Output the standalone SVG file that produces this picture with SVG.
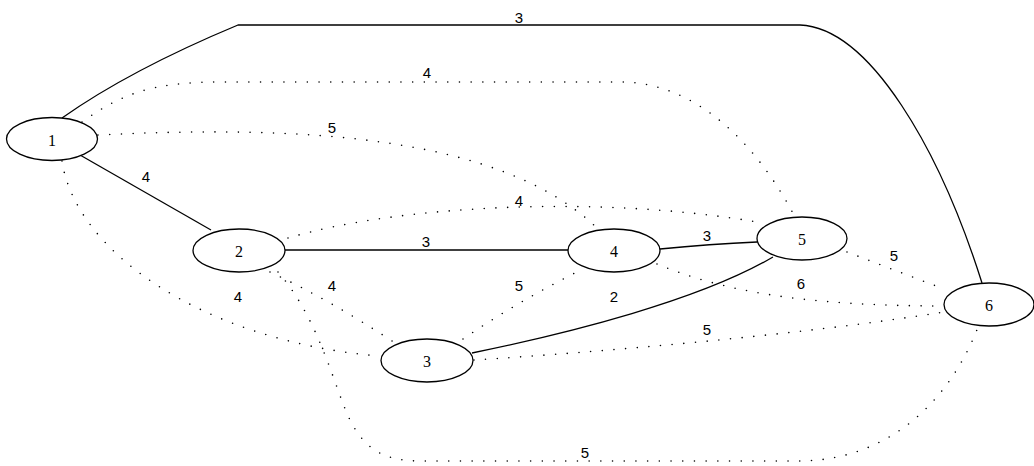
<svg xmlns="http://www.w3.org/2000/svg" width="1034" height="466" viewBox="0 0 1034 466">
<style>
.node ellipse{fill:#fff;stroke:#000;stroke-width:1.3}
.node text{font-family:"Liberation Serif",serif;font-size:16px;text-anchor:middle;dominant-baseline:central;fill:#000}
.e{fill:none;stroke:#000;stroke-width:1.3}
.d{fill:none;stroke:#000;stroke-width:1.6;stroke-linecap:round;stroke-dasharray:0 11.7}
.lbl{font-family:"Liberation Sans",sans-serif;font-size:15px;text-anchor:middle;dominant-baseline:central;fill:#000}
</style>
<rect width="1034" height="466" fill="#fff"/>
<g id="connectors">
<path class="e" d="M62,118 Q130,70 238,25 L800,25 C870,28 940,150 982,283"/>
<path class="d" d="M82,122 C120,95 150,82 220,82 L620,82 C700,82 760,150 795,217"/>
<path class="d" d="M98,135 C300,125 500,135 597,228"/>
<path class="e" d="M80,155 L211,230"/>
<path class="d" d="M62,161 C75,250 200,340 378,356"/>
<path class="e" d="M285,250 L568,250"/>
<path class="d" d="M288,238 C400,205 600,195 757,222"/>
<path class="d" d="M270,272 Q330,300 395,343"/>
<path class="d" d="M278,272 C320,320 335,390 350,420 C365,450 385,461 420,461 L800,461 C890,460 950,400 978,327"/>
<path class="e" d="M660,249 Q710,244 757,242"/>
<path class="e" d="M472,353 C570,333 700,300 773,257"/>
<path class="d" d="M463,339 Q520,300 583,269"/>
<path class="d" d="M657,264 C720,290 800,306 944,306"/>
<path class="d" d="M847,252 L944,289"/>
<path class="d" d="M474,360 C600,352 800,335 944,312"/>
<text class="lbl" x="519" y="17">3</text>
<text class="lbl" x="427" y="72">4</text>
<text class="lbl" x="332" y="127">5</text>
<text class="lbl" x="146" y="176">4</text>
<text class="lbl" x="519" y="200">4</text>
<text class="lbl" x="426" y="241">3</text>
<text class="lbl" x="707" y="235">3</text>
<text class="lbl" x="894" y="255">5</text>
<text class="lbl" x="238" y="296">4</text>
<text class="lbl" x="332" y="285">4</text>
<text class="lbl" x="519" y="285">5</text>
<text class="lbl" x="614" y="296">2</text>
<text class="lbl" x="801" y="283">6</text>
<text class="lbl" x="707" y="329">5</text>
<text class="lbl" x="585" y="452">5</text>
</g>
<g id="n1" class="node"><ellipse cx="52" cy="139" rx="45.5" ry="21.5"/><text x="52" y="140">1</text></g>
<g id="n2" class="node"><ellipse cx="239" cy="250.5" rx="46" ry="21.5"/><text x="239" y="251">2</text></g>
<g id="n3" class="node"><ellipse cx="427" cy="360.5" rx="46" ry="21.5"/><text x="427" y="361">3</text></g>
<g id="n4" class="node"><ellipse cx="614" cy="250.5" rx="46" ry="21.5"/><text x="614" y="251">4</text></g>
<g id="n5" class="node"><ellipse cx="802" cy="238.5" rx="45" ry="21.5"/><text x="802" y="239">5</text></g>
<g id="n6" class="node"><ellipse cx="989" cy="304.5" rx="45" ry="21.5"/><text x="989" y="305">6</text></g>
</svg>
